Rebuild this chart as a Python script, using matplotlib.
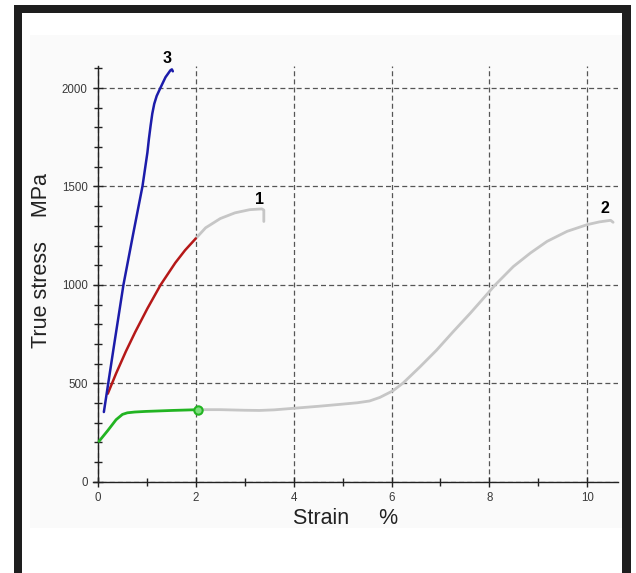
import matplotlib.pyplot as plt
from matplotlib.patches import Rectangle
from matplotlib.ticker import MultipleLocator

# curve 3 (blue)
strain_3 = [0.12, 0.32, 0.52, 0.72, 0.91, 1.01, 1.04, 1.075, 1.11, 1.15, 1.2, 1.28, 1.38, 1.48, 1.51, 1.53]
stress_3 = [354, 680, 1000, 1260, 1502, 1672, 1740, 1808, 1870, 1920, 1960, 2003, 2055, 2090, 2095, 2085]

# curve 1, red part and grey part
strain_1_red = [0.20, 0.37, 0.57, 0.76, 1.01, 1.28, 1.58, 1.78, 2.0]
stress_1_red = [447, 550, 662, 760, 880, 1000, 1112, 1176, 1236]
strain_1_grey = [2.0, 2.2, 2.5, 2.8, 3.1, 3.35, 3.39, 3.39]
stress_1_grey = [1236, 1290, 1337, 1366, 1382, 1386, 1380, 1322]

# curve 2, green part and grey part
strain_2_green = [0.02, 0.2, 0.37, 0.5, 0.6, 0.75, 0.97, 1.51, 2.05]
stress_2_green = [205, 260, 315, 342, 350, 354, 357, 362, 366]
strain_2_grey = [2.05, 2.5, 3.0, 3.3, 3.6, 4.0, 4.5, 4.95, 5.3, 5.55, 5.76, 6.03, 6.24,
                 6.58, 6.92, 7.26, 7.61, 7.88, 8.12, 8.49, 8.84, 9.18, 9.59, 10.0, 10.25, 10.48, 10.53]
stress_2_grey = [366, 366, 363, 362, 365, 373, 383, 393, 401, 410, 428, 462, 502,
                 583, 668, 762, 856, 932, 1000, 1093, 1162, 1221, 1272, 1306, 1320, 1328, 1318]

curve_labels = ["1", "2", "3"]
label_x = [3.31, 10.37, 1.41]
label_y = [1434, 1388, 2148]

W, H = 636, 573
fig = plt.figure(figsize=(W / 100, H / 100), dpi=100)
fig.patch.set_facecolor("white")

# faint panel behind the plot
panel = Rectangle((30 / W, 1 - 528 / H), 592 / W, 493 / H, transform=fig.transFigure,
                  facecolor="#fafafa", edgecolor="none", zorder=-10)
fig.patches.append(panel)

# black frame round the picture
frame = "#1e1e1e"
fig.patches.append(Rectangle((14 / W, 0), 8 / W, 1 - 5 / H, transform=fig.transFigure,
                             facecolor=frame, edgecolor="none", zorder=-5))
fig.patches.append(Rectangle((622 / W, 0), 9 / W, 1 - 5 / H, transform=fig.transFigure,
                             facecolor=frame, edgecolor="none", zorder=-5))
fig.patches.append(Rectangle((14 / W, 1 - 13 / H), 617 / W, 8 / H, transform=fig.transFigure,
                             facecolor=frame, edgecolor="none", zorder=-5))

left_px, right_px, top_px, bottom_px = 93.1, 618, 66.4, 481.7
ax = fig.add_axes([left_px / W, 1 - bottom_px / H, (right_px - left_px) / W, (bottom_px - top_px) / H])
ax.set_zorder(1)
ax.set_facecolor("none")
ax.set_xlim(-0.1, 10.63)
ax.set_ylim(0, 2110)

for s in ["top", "right"]:
    ax.spines[s].set_visible(False)
for s in ["left", "bottom"]:
    ax.spines[s].set_color("#222222")
    ax.spines[s].set_linewidth(1.0)
ax.spines["left"].set_position(("data", 0))

ax.xaxis.set_major_locator(MultipleLocator(2))
ax.xaxis.set_minor_locator(MultipleLocator(1))
ax.yaxis.set_major_locator(MultipleLocator(500))
ax.yaxis.set_minor_locator(MultipleLocator(100))
ax.tick_params(which="both", direction="inout", color="#222222", width=1.0)
ax.tick_params(which="major", length=7, labelsize=8.3, labelcolor="#3a3a3a", pad=4)
ax.tick_params(which="minor", length=6)
for lab in ax.get_xticklabels() + ax.get_yticklabels():
    lab.set_family(["Liberation Sans", "DejaVu Sans"])

ax.grid(True, which="major", linestyle=(0, (4, 2.5)), color="#555555", linewidth=0.9)
ax.set_axisbelow(True)

ax.plot(strain_2_grey, stress_2_grey, color="#c6c6c6", lw=2.0, solid_capstyle="round",
        solid_joinstyle="round", zorder=3)
ax.plot(strain_1_grey, stress_1_grey, color="#c6c6c6", lw=2.0, solid_capstyle="round",
        solid_joinstyle="round", zorder=3)
ax.plot(strain_1_red, stress_1_red, color="#b51818", lw=1.8, solid_capstyle="round",
        solid_joinstyle="round", zorder=4)
ax.plot(strain_3, stress_3, color="#1c1caa", lw=1.8, solid_capstyle="round",
        solid_joinstyle="round", zorder=4, clip_on=False)
ax.plot(strain_2_green, stress_2_green, color="#22b422", lw=2.0, solid_capstyle="round",
        solid_joinstyle="round", zorder=4)
ax.plot(strain_2_green[-1], stress_2_green[-1], "o", ms=6, mfc="#7fdc7f", mec="#22b422", mew=1.5, zorder=5)

for t, x, y in zip(curve_labels, label_x, label_y):
    ax.text(x, y, t, ha="center", va="center", fontsize=11.5, fontweight="bold",
            family=["Liberation Sans", "DejaVu Sans"], clip_on=False)

fig.text(346 / W, 1 - 518 / H, "Strain     %", ha="center", va="center", fontsize=15.5,
         color="#222222", family=["Liberation Sans", "DejaVu Sans"])
fig.text(42 / W, 1 - 261 / H, "True stress    MPa", ha="center", va="center", rotation=90,
         fontsize=15.5, color="#222222", family=["Liberation Sans", "DejaVu Sans"])

fig.savefig("out.png", dpi=100)
